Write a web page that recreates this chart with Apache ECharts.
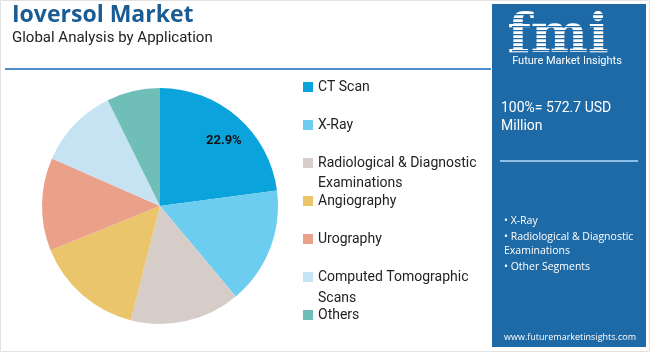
<!DOCTYPE html>
<html lang="en">
<head>
  <meta charset="UTF-8">
  <title>Ioversol Market</title>
  <script src="https://cdn.jsdelivr.net/npm/echarts@6/dist/echarts.min.js"></script>
  <style>
    html, body { margin: 0; padding: 0; background: #fff; }
    #chart { width: 650px; height: 352px; }
  </style>
</head>
<body>
  <div id="chart"></div>
  <script>
    // data
    var categories = ['CT Scan', 'X-Ray', 'Radiological & Diagnostic Examinations', 'Angiography',
      'Urography', 'Computed Tomographic Scans', 'Others'];
    var shares = [22.9, 16.0, 15.1, 14.9, 12.7, 11.1, 7.3];
    var colors = ['#0AA3DB', '#6CCDF0', '#D6CDC9', '#EBC56B', '#EBA08A', '#C6E3F3', '#70BEB8'];
    var labelledSlice = 'CT Scan';
    var legendSplit = {
      'Radiological & Diagnostic Examinations': ['Radiological & Diagnostic', 'Examinations'],
      'Computed Tomographic Scans': ['Computed Tomographic', 'Scans']
    };
    var totalText = ['100%= 572.7 USD', 'Million'];
    var panelBullets = ['• X-Ray', '• Radiological & Diagnostic', 'Examinations', '• Other Segments'];

    var chart = echarts.init(document.getElementById('chart'));
    var font = 'Roboto, "Open Sans", sans-serif';

    var pieData = categories.map(function (name, i) {
      return {
        name: name,
        value: shares[i],
        label: { show: name === labelledSlice }
      };
    });

    var graphics = [
      { type: 'rect', shape: { x: 0.5, y: 0.5, width: 649, height: 351 }, style: { fill: 'none', stroke: '#e2e2e2' } },
      { type: 'rect', shape: { x: 5, y: 68, width: 486, height: 2 }, style: { fill: '#4C8DC9' } },
      { type: 'rect', shape: { x: 492, y: 4, width: 154, height: 343 }, style: { fill: '#1E6AA7' } },
      {
        type: 'text', x: 558, y: 38,
        style: { text: 'fmi', fill: '#fff', font: 'bold 54px "DejaVu Serif", serif', align: 'center', verticalAlign: 'middle' }
      }
    ];
    // stripes over the logo letters
    for (var s = 0; s < 10; s++) {
      graphics.push({ type: 'rect', shape: { x: 512, y: 14 + s * 4, width: 95, height: 1.2 }, style: { fill: '#1E6AA7' } });
    }
    graphics.push(
      { type: 'text', x: 567, y: 61, style: { text: 'Future Market Insights', fill: '#fff', font: '11px ' + font, align: 'center', verticalAlign: 'middle' } },
      { type: 'text', x: 501, y: 108, style: { text: totalText[0], fill: '#fff', font: '14px ' + font, verticalAlign: 'middle' } },
      { type: 'text', x: 501, y: 126, style: { text: totalText[1], fill: '#fff', font: '14px ' + font, verticalAlign: 'middle' } },
      { type: 'rect', shape: { x: 500, y: 160, width: 138, height: 2 }, style: { fill: '#8EBFE6' } },
      { type: 'text', x: 570, y: 337, style: { text: 'www.futuremarketinsights.com', fill: '#fff', font: '9px "Open Sans", sans-serif', align: 'center', verticalAlign: 'middle' } }
    );
    var bulletY = [221, 237, 251, 267];
    panelBullets.forEach(function (t, i) {
      graphics.push({ type: 'text', x: 504, y: bulletY[i], style: { text: t, fill: '#fff', font: '10.5px "Open Sans", sans-serif', verticalAlign: 'middle' } });
    });
    // second lines of the wrapped legend names
    graphics.push(
      { type: 'text', x: 318, y: 183, style: { text: legendSplit[categories[2]][1], fill: '#222', font: '14px ' + font, verticalAlign: 'middle' } },
      { type: 'text', x: 318, y: 298, style: { text: legendSplit[categories[5]][1], fill: '#222', font: '14px ' + font, verticalAlign: 'middle' } }
    );

    var option = {
      color: colors,
      animation: false,
      title: {
        text: 'Ioversol Market',
        subtext: 'Global Analysis by Application',
        left: 12,
        top: 4,
        padding: 0,
        itemGap: 4,
        textStyle: { fontFamily: '"Open Sans", sans-serif', fontSize: 23, fontWeight: 'bold', color: '#1A5C93' },
        subtextStyle: { fontFamily: font, fontSize: 15, color: '#222' }
      },
      legend: {
        orient: 'vertical',
        left: 303,
        top: 77,
        padding: 0,
        itemWidth: 10,
        itemHeight: 10,
        itemGap: 18,
        icon: 'rect',
        selectedMode: false,
        textStyle: { fontFamily: font, fontSize: 14, lineHeight: 20, color: '#222' },
        formatter: function (name) {
          return legendSplit[name] ? legendSplit[name][0] : name;
        },
        data: categories
      },
      graphic: graphics,
      series: [{
        type: 'pie',
        center: [160, 206],
        radius: 118,
        startAngle: 90,
        clockwise: true,
        silent: true,
        label: {
          position: 'inside',
          fontFamily: font,
          fontSize: 13,
          fontWeight: 'bold',
          color: '#111',
          formatter: function (p) { return p.value.toFixed(1) + '%'; }
        },
        labelLayout: { dx: 23, dy: -19 },
        labelLine: { show: false },
        data: pieData
      }]
    };

    chart.setOption(option);
  </script>
</body>
</html>
